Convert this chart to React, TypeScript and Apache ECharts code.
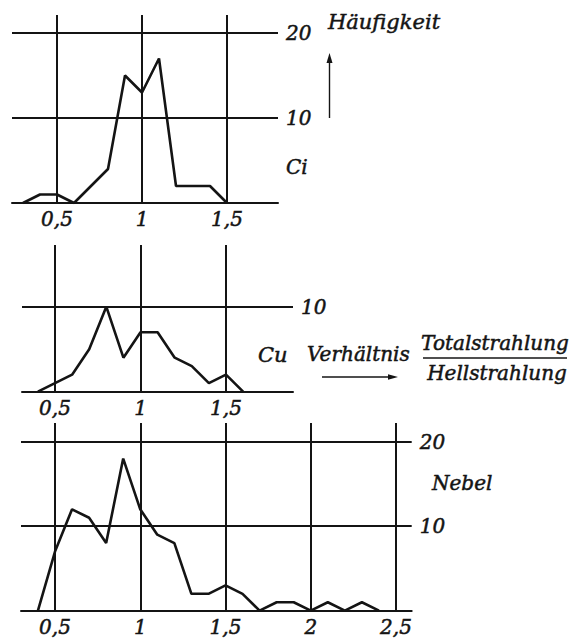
import React, { useEffect, useRef } from "react";
import * as echarts from "echarts";

const ciX = [0.3, 0.4, 0.5, 0.6, 0.8, 0.9, 1.0, 1.1, 1.2, 1.4, 1.5];
const ciY = [0, 1, 1, 0, 4, 15, 13, 17, 2, 2, 0];

const cuX = [0.4, 0.6, 0.7, 0.8, 0.9, 1.0, 1.1, 1.2, 1.3, 1.4, 1.5, 1.6];
const cuY = [0, 2, 5, 10, 4, 7, 7, 4, 3, 1, 2, 0];

const nebelX = [0.4, 0.5, 0.6, 0.7, 0.8, 0.9, 1.0, 1.1, 1.2, 1.3, 1.4, 1.5, 1.6, 1.7, 1.8, 1.9, 2.0, 2.1, 2.2, 2.3, 2.4];
const nebelY = [0, 7, 12, 11, 8, 18, 12, 9, 8, 2, 2, 3, 2, 0, 1, 1, 0, 1, 0, 1, 0];

const ciTicksX = [0.5, 1, 1.5];
const cuTicksX = [0.5, 1, 1.5];
const nebelTicksX = [0.5, 1, 1.5, 2, 2.5];
const ciTicksY = [10, 20];
const cuTicksY = [10];
const nebelTicksY = [10, 20];

const INK = "#141414";
const FONT = "DejaVu Serif";

const fmt = (v: number) => String(v).replace(".", ",");

export default function App() {
  const ref = useRef<HTMLDivElement>(null);
  useEffect(() => {
    document.body.style.margin = "0";
    const chart = echarts.init(ref.current!, null, { renderer: "svg" });
    const grids = [
      { left: 12, top: 15, width: 266, height: 188 },
      { left: 22, top: 245, width: 271, height: 146.7 },
      { left: 21, top: 423, width: 390.7, height: 187.7 },
    ];
    const xr = [
      [(12 + 28) / 170, (278 + 28) / 170],
      [(22 + 30.5) / 171, (293 + 30.5) / 171],
      [(21 + 30.25) / 170.5, (411.7 + 30.25) / 170.5],
    ];
    const ymax = [188 / 8.5, 146.7 / 8.5, 187.7 / 8.45];
    const xTicks = [ciTicksX, cuTicksX, nebelTicksX];
    const yTicks = [ciTicksY, cuTicksY, nebelTicksY];
    const xs = [ciX, cuX, nebelX];
    const ys = [ciY, cuY, nebelY];
    const labelStyle = {
      color: INK,
      fontFamily: FONT,
      fontStyle: "italic" as const,
      fontSize: 20,
      textBorderColor: INK,
      textBorderWidth: 0.5,
    };
    const txt = (text: string, x: number, y: number, size: number, align = "left") => ({
      type: "text",
      x,
      y,
      style: {
        text,
        font: `italic ${size}px "${FONT}"`,
        fill: INK,
        stroke: INK,
        lineWidth: 0.5,
        align,
        verticalAlign: "middle",
      },
    });

    const option: any = {
      animation: false,
      backgroundColor: "#ffffff",
      grid: grids,
      xAxis: grids.map((_, i) => ({
        type: "value",
        gridIndex: i,
        min: xr[i][0],
        max: xr[i][1],
        axisLine: { show: true, lineStyle: { color: INK, width: 2 } },
        axisTick: { show: false },
        splitLine: { show: false },
        axisLabel: {
          ...labelStyle,
          customValues: xTicks[i],
          formatter: (v: number) => fmt(v),
          margin: 6,
          hideOverlap: false,
        },
      })),
      yAxis: grids.map((_, i) => ({
        type: "value",
        gridIndex: i,
        position: "right",
        min: 0,
        max: ymax[i],
        axisLine: { show: false },
        axisTick: { show: false },
        splitLine: { show: false },
        axisLabel: {
          ...labelStyle,
          customValues: yTicks[i],
          margin: 8,
          hideOverlap: false,
        },
      })),
      series: grids.map((_, i) => ({
        type: "line",
        xAxisIndex: i,
        yAxisIndex: i,
        data: xs[i].map((x, k) => [x, ys[i][k]]),
        symbol: "none",
        lineStyle: { color: INK, width: 2.6 },
        z: 3,
        markLine: {
          silent: true,
          symbol: "none",
          label: { show: false },
          lineStyle: { color: INK, width: 2, type: "solid" },
          data: [
            ...xTicks[i].map((v) => ({ xAxis: v })),
            ...yTicks[i].map((v) => ({ yAxis: v })),
          ],
        },
      })),
      graphic: [
        txt("Häufigkeit", 328, 22, 21),
        { type: "line", shape: { x1: 329.5, y1: 118, x2: 329.5, y2: 60 }, style: { stroke: INK, lineWidth: 1.4 } },
        { type: "polygon", shape: { points: [[329.5, 53], [326.5, 63], [332.5, 63]] }, style: { fill: INK } },
        txt("Ci", 286, 167, 20),
        txt("Cu", 258, 355, 21),
        txt("Verhältnis", 307, 354, 20),
        { type: "line", shape: { x1: 322, y1: 377, x2: 391, y2: 377 }, style: { stroke: INK, lineWidth: 1.3 } },
        { type: "polygon", shape: { points: [[398, 377], [388, 374.3], [388, 379.7]] }, style: { fill: INK } },
        txt("Totalstrahlung", 495, 343, 20, "center"),
        { type: "line", shape: { x1: 423, y1: 358, x2: 567, y2: 358 }, style: { stroke: INK, lineWidth: 1.5 } },
        txt("Hellstrahlung", 497, 373, 20, "center"),
        txt("Nebel", 432, 483, 20),
      ],
    };
    chart.setOption(option);
    return () => chart.dispose();
  }, []);
  return <div ref={ref} style={{ width: 570, height: 643 }} />;
}
